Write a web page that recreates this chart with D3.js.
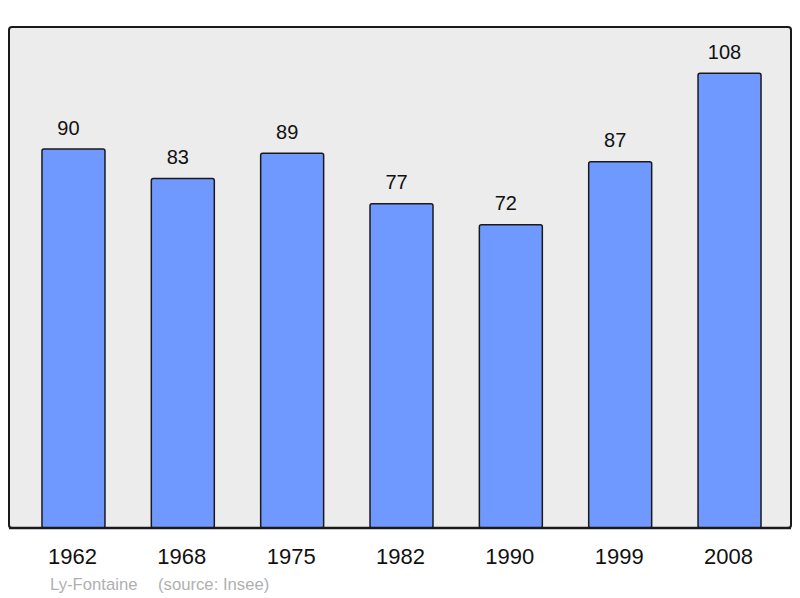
<!DOCTYPE html>
<html>
<head>
<meta charset="utf-8">
<script src="https://cdn.jsdelivr.net/npm/d3@7"></script>
<style>
  body { margin: 0; background: #fff; }
  text { font-family: "Liberation Sans", Arial, sans-serif; }
</style>
</head>
<body>
<svg id="chart" width="800" height="598"></svg>
<script>
// Population data
var years = ['1962', '1968', '1975', '1982', '1990', '1999', '2008'];
var population = [90, 83, 89, 77, 72, 87, 108];
var commune = 'Ly-Fontaine';
var source = '(source: Insee)';

var panel = {left: 9, top: 27, right: 791, bottom: 528};

var svg = d3.select('svg#chart');

var xScale = d3.scaleBand().domain(years)
  .range([18.8, 784.2]).paddingInner(0.424).paddingOuter(0.212);
var yScale = d3.scaleLinear().domain([0, 119]).range([panel.bottom, panel.top]);

// Background panel
svg.append('rect')
  .attr('x', panel.left).attr('y', panel.top)
  .attr('width', panel.right - panel.left).attr('height', panel.bottom - panel.top)
  .attr('rx', 3)
  .attr('fill', '#ececec')
  .attr('stroke', '#1a1a1a').attr('stroke-width', 2);

// Bars
svg.selectAll('rect.bar')
  .data(population)
  .enter().append('rect')
  .attr('class', 'bar')
  .attr('x', function(d, i) { return xScale(years[i]); })
  .attr('y', function(d) { return yScale(d); })
  .attr('width', xScale.bandwidth())
  .attr('height', function(d) { return yScale(0) - yScale(d); })
  .attr('rx', 2)
  .attr('fill', '#7099ff')
  .attr('stroke', '#1a1a1a').attr('stroke-width', 1.5);

// Value labels (sit a little left of the bar centre)
svg.selectAll('text.value')
  .data(population)
  .enter().append('text')
  .attr('class', 'value')
  .attr('x', function(d, i) { return xScale(years[i]) + xScale.bandwidth() / 2 - 5; })
  .attr('y', function(d) { return yScale(d) - 14.5; })
  .attr('text-anchor', 'middle')
  .attr('font-size', 20)
  .attr('fill', '#111')
  .text(function(d) { return d; });

// redraw the panel border on top of bar bottoms
svg.append('line')
  .attr('x1', panel.left).attr('x2', panel.right)
  .attr('y1', panel.bottom).attr('y2', panel.bottom)
  .attr('stroke', '#1a1a1a').attr('stroke-width', 2.5);

// X axis
var xAxis = d3.axisBottom(xScale).tickSize(0).tickPadding(20);
var axisG = svg.append('g')
  .attr('transform', 'translate(-1,' + panel.bottom + ')')
  .call(xAxis);
axisG.select('.domain').remove();
axisG.selectAll('text')
  .attr('font-size', 22)
  .attr('font-family', '"Liberation Sans", Arial, sans-serif')
  .attr('fill', '#111');

// Footer
svg.append('text')
  .attr('x', 50).attr('y', 590)
  .attr('font-size', 16.7).attr('fill', '#b0b0b0')
  .text(commune);
svg.append('text')
  .attr('x', 158).attr('y', 590)
  .attr('font-size', 16.7).attr('fill', '#b0b0b0')
  .text(source);
</script>
</body>
</html>
